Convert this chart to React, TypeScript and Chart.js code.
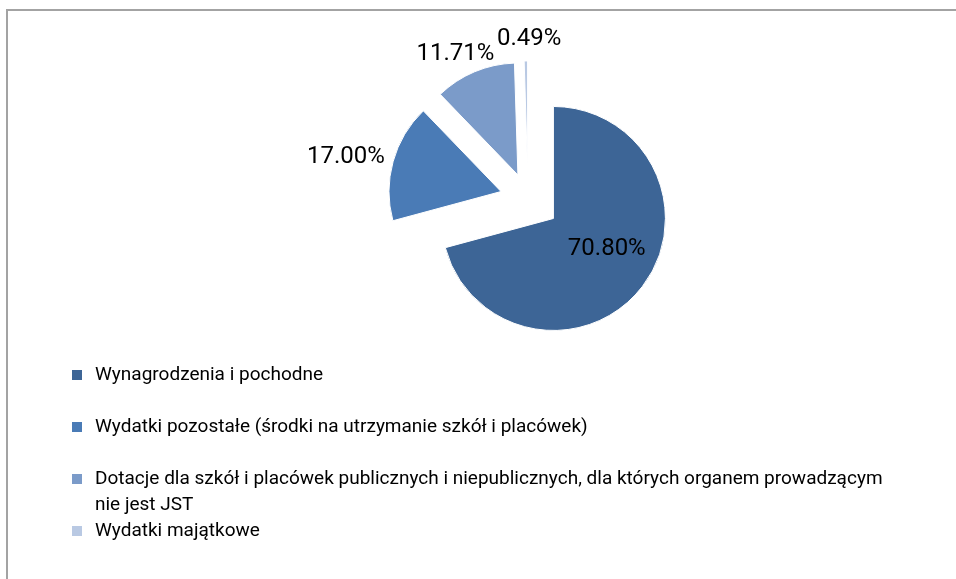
import React, { useEffect, useRef } from "react";
import { Chart, registerables } from "chart.js";

Chart.register(...registerables);

const categories = [
  "Wynagrodzenia i pochodne",
  "Wydatki pozostałe (środki na utrzymanie szkół i placówek)",
  "Dotacje dla szkół i placówek publicznych i niepublicznych, dla których organem prowadzącym nie jest JST",
  "Wydatki majątkowe",
];
const shares = [70.8, 17.0, 11.71, 0.49];
const valueLabels = ["70.80%", "17.00%", "11.71%", "0.49%"];
const colors = ["#3d6596", "#4a7bb6", "#7b9bc9", "#b9c9e3"];
const explode = [32, 28, 26, 26];

const FONT = "Roboto, 'Open Sans', sans-serif";

function sliceShift(arc: any, i: number) {
  const mid = (arc.startAngle + arc.endAngle) / 2;
  return { dx: Math.cos(mid) * explode[i], dy: Math.sin(mid) * explode[i], mid };
}

const explodePlugin = {
  id: "explodeSlices",
  beforeDatasetDraw(chart: any, args: any) {
    const meta = chart.getDatasetMeta(args.index);
    const ctx = chart.ctx;
    meta.data.forEach((arc: any, i: number) => {
      const { dx, dy } = sliceShift(arc, i);
      ctx.save();
      ctx.translate(dx, dy);
      arc.draw(ctx, chart.chartArea);
      ctx.restore();
    });
    return false;
  },
};

const labelPlugin = {
  id: "sliceLabels",
  afterDatasetsDraw(chart: any) {
    const ctx = chart.ctx;
    const meta = chart.getDatasetMeta(0);
    ctx.save();
    ctx.font = `24px ${FONT}`;
    ctx.fillStyle = "#000";
    ctx.textAlign = "center";
    ctx.textBaseline = "middle";
    meta.data.forEach((arc: any, i: number) => {
      const { dx, dy, mid } = sliceShift(arc, i);
      const cx = arc.x + dx;
      const cy = arc.y + dy;
      const ux = Math.cos(mid);
      const uy = Math.sin(mid);
      const r = arc.outerRadius;
      const text = valueLabels[i];
      let lx: number, ly: number;
      if (shares[i] > 30) {
        lx = cx + ux * r * 0.6;
        ly = cy + uy * r * 0.45;
      } else {
        const w = ctx.measureText(text).width;
        const h = 18;
        const g = shares[i] < 2 ? 13 : 10;
        lx = cx + ux * (r + g) + (ux * w) / 2 + (shares[i] < 2 ? 4 : 0);
        ly = cy + uy * (r + g) + (uy * h) / 2;
      }
      ctx.fillText(text, lx, ly);
    });
    ctx.restore();
  },
};

const legendPlugin = {
  id: "wrapLegend",
  afterDraw(chart: any) {
    const ctx = chart.ctx;
    const x0 = 72;
    const textX = 95;
    const y0 = 375;
    const slot = 52;
    const line = 26;
    const wrap = 805;
    ctx.save();
    ctx.font = `19px ${FONT}`;
    ctx.textBaseline = "middle";
    ctx.textAlign = "left";
    categories.forEach((cat, i) => {
      const y = y0 + i * slot;
      ctx.fillStyle = colors[i];
      ctx.fillRect(x0, y - 5, 10, 10);
      ctx.fillStyle = "#000";
      const words = cat.split(" ");
      const lines: string[] = [];
      let cur = "";
      words.forEach((w) => {
        const test = cur ? cur + " " + w : w;
        if (ctx.measureText(test).width > wrap && cur) {
          lines.push(cur);
          cur = w;
        } else cur = test;
      });
      if (cur) lines.push(cur);
      lines.forEach((l, k) => ctx.fillText(l, textX, y + k * line));
    });
    ctx.restore();
  },
};

export default function App() {
  const ref = useRef<HTMLCanvasElement | null>(null);
  useEffect(() => {
    if (!ref.current) return;
    const chart = new Chart(ref.current, {
      type: "pie",
      data: {
        labels: categories,
        datasets: [
          {
            data: shares,
            backgroundColor: colors,
            borderColor: "#ffffff",
            borderWidth: 1,
            offset: 0,
          },
        ],
      },
      options: {
        animation: false,
        responsive: false,
        devicePixelRatio: 1,
        radius: 112,
        layout: { padding: { left: 398, right: 298, top: 69, bottom: 250 } },
        plugins: {
          legend: { display: false },
          tooltip: { enabled: false },
          title: { display: false },
        },
        events: [],
      } as any,
      plugins: [explodePlugin, labelPlugin, legendPlugin],
    });
    return () => chart.destroy();
  }, []);
  return (
    <div style={{ position: "fixed", left: 0, top: 0, width: 956, height: 579, background: "#fff", overflow: "hidden" }}>
      <div
        style={{
          position: "absolute",
          left: 6,
          top: 9,
          width: 1000,
          height: 1000,
          border: "2px solid #a3a3a3",
          boxSizing: "border-box",
        }}
      />
      <canvas ref={ref} width={956} height={579} style={{ position: "absolute", left: 0, top: 0, width: 956, height: 579 }} />
    </div>
  );
}
